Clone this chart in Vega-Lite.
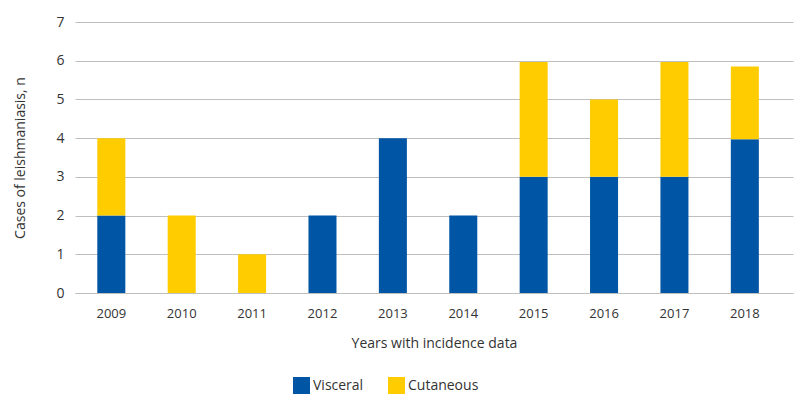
{
  "$schema": "https://vega.github.io/schema/vega-lite/v6.json",
  "autosize": "none",
  "width": 718,
  "height": 271,
  "padding": {"left": 75, "top": 22, "right": 7, "bottom": 111},
  "background": "white",
  "data": {
    "values": [
      {"year": "2009", "type": "Visceral", "cases": 2},
      {"year": "2009", "type": "Cutaneous", "cases": 2},
      {"year": "2010", "type": "Visceral", "cases": 0},
      {"year": "2010", "type": "Cutaneous", "cases": 2},
      {"year": "2011", "type": "Visceral", "cases": 0},
      {"year": "2011", "type": "Cutaneous", "cases": 1},
      {"year": "2012", "type": "Visceral", "cases": 2},
      {"year": "2012", "type": "Cutaneous", "cases": 0},
      {"year": "2013", "type": "Visceral", "cases": 4},
      {"year": "2013", "type": "Cutaneous", "cases": 0},
      {"year": "2014", "type": "Visceral", "cases": 2},
      {"year": "2014", "type": "Cutaneous", "cases": 0},
      {"year": "2015", "type": "Visceral", "cases": 3},
      {"year": "2015", "type": "Cutaneous", "cases": 2.97},
      {"year": "2016", "type": "Visceral", "cases": 3},
      {"year": "2016", "type": "Cutaneous", "cases": 2},
      {"year": "2017", "type": "Visceral", "cases": 3},
      {"year": "2017", "type": "Cutaneous", "cases": 2.97},
      {"year": "2018", "type": "Visceral", "cases": 3.97},
      {"year": "2018", "type": "Cutaneous", "cases": 1.88}
    ]
  },
  "mark": {"type": "bar"},
  "encoding": {
    "x": {
      "field": "year",
      "type": "ordinal",
      "scale": {"paddingInner": 0.602, "paddingOuter": 0.401, "align": 0.395},
      "axis": {
        "title": "Years with incidence data",
        "titleFont": "Open Sans",
        "titleFontSize": 14,
        "titleFontWeight": "normal",
        "titleColor": "#333333",
        "titlePadding": 16,
        "labelFont": "Open Sans",
        "labelFontSize": 13,
        "labelColor": "#333333",
        "labelAngle": 0,
        "labelPadding": 14,
        "ticks": false,
        "domainColor": "#BFBFBF",
        "domainWidth": 1
      }
    },
    "y": {
      "field": "cases",
      "type": "quantitative",
      "stack": "zero",
      "scale": {"domain": [0, 7], "nice": false},
      "axis": {
        "title": "Cases of leishmaniasis, n",
        "titleFont": "Open Sans",
        "titleFontSize": 14,
        "titleFontWeight": "normal",
        "titleColor": "#333333",
        "titlePadding": 28,
        "labelFont": "Open Sans",
        "labelFontSize": 14,
        "labelColor": "#333333",
        "labelPadding": 11,
        "labelOverlap": false,
        "values": [0, 1, 2, 3, 4, 5, 6, 7],
        "ticks": false,
        "domain": false,
        "grid": true,
        "gridColor": "#BFBFBF",
        "gridWidth": 1
      }
    },
    "color": {
      "field": "type",
      "type": "nominal",
      "sort": ["Visceral", "Cutaneous"],
      "scale": {"domain": ["Visceral", "Cutaneous"], "range": ["#0055A4", "#FFCC00"]},
      "legend": {
        "title": null,
        "orient": "none",
        "direction": "horizontal",
        "legendX": 218,
        "legendY": 355,
        "symbolType": "square",
        "symbolSize": 289,
        "symbolStrokeWidth": 0,
        "labelFont": "Open Sans",
        "labelFontSize": 14,
        "labelColor": "#333333",
        "labelOffset": 3,
        "columnPadding": 24
      }
    },
    "order": {"field": "type", "sort": "descending"}
  },
  "config": {"view": {"stroke": null}}
}
